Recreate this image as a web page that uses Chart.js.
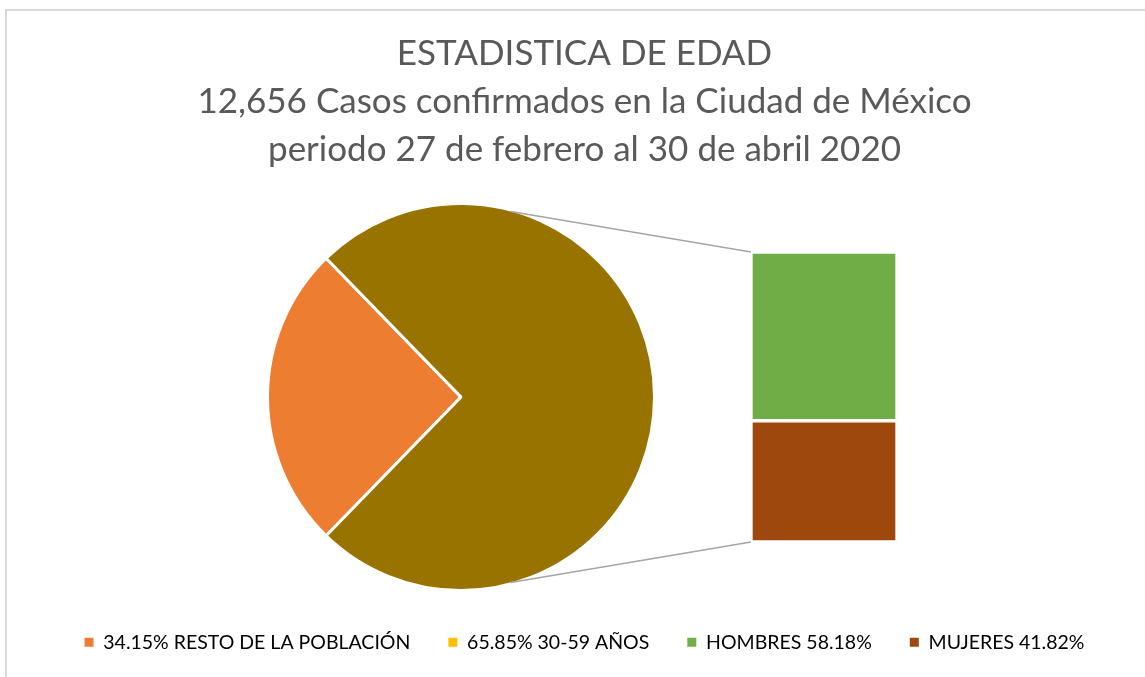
<!DOCTYPE html>
<html>
<head>
<meta charset="utf-8">
<title>Estadistica de edad</title>
<script src="https://cdn.jsdelivr.net/npm/chart.js@4.4.1/dist/chart.umd.min.js"></script>
<style>
  html, body { margin: 0; padding: 0; background: #fff; }
  #wrap { position: relative; width: 1145px; height: 677px; overflow: hidden; }
  #grafica-pie { position: absolute; left: 0; top: 0; }
  #grafica-barra { position: absolute; left: 751px; top: 252px; }
</style>
</head>
<body>
<div id="wrap">
  <canvas id="grafica-pie" width="1145" height="677"></canvas>
  <canvas id="grafica-barra" width="146" height="290"></canvas>
</div>
<script>
const tituloLineas = ['ESTADISTICA DE EDAD', '12,656 Casos confirmados en la Ciudad de México', 'periodo 27 de febrero al 30 de abril 2020'];
const categorias = ['RESTO DE LA POBLACIÓN', '30-59 AÑOS', 'HOMBRES', 'MUJERES'];
const porcentajes = [34.15, 65.85, 58.18, 41.82];
const etiquetasLeyenda = ['34.15% RESTO DE LA POBLACIÓN', '65.85% 30-59 AÑOS', 'HOMBRES 58.18%', 'MUJERES 41.82%'];
const colores = ['#ED7D31', '#FFC000', '#70AD47', '#9E480E'];
const colorOtro = '#997300';

Chart.defaults.font.family = 'Lato, "Open Sans", sans-serif';
Chart.defaults.color = '#595959';

// barra de desglose (hombres / mujeres)
const graficaBarra = new Chart(document.getElementById('grafica-barra'), {
  type: 'bar',
  data: {
    labels: [categorias[1]],
    datasets: [
      { label: categorias[3], data: [porcentajes[3]], backgroundColor: colores[3] },
      { label: categorias[2], data: [porcentajes[2]], backgroundColor: colores[2] }
    ]
  },
  options: {
    responsive: false,
    animation: false,
    events: [],
    datasets: {
      bar: { barPercentage: 1, categoryPercentage: 1, borderColor: '#ffffff', borderWidth: 2, borderSkipped: false }
    },
    scales: {
      x: { stacked: true, display: false },
      y: { stacked: true, display: false, min: 0, max: porcentajes[2] + porcentajes[3] }
    },
    layout: { padding: 0 },
    plugins: { legend: { display: false }, tooltip: { enabled: false } }
  }
});

// marco gris del area del grafico
const marco = {
  id: 'marco',
  beforeDraw(chart) {
    const ctx = chart.ctx;
    ctx.save();
    ctx.strokeStyle = '#d9d9d9';
    ctx.lineWidth = 2;
    ctx.strokeRect(6, 10, 1200, 800);
    ctx.restore();
  }
};

// coloca el pastel a la izquierda
const moverPie = {
  id: 'moverPie',
  afterLayout(chart) {
    const a = chart.chartArea;
    a.left = 266; a.right = 656; a.top = 202; a.bottom = 592;
    a.width = 390; a.height = 390;
  }
};

// lineas que unen el pastel con la barra
const conectores = {
  id: 'conectores',
  afterDraw(chart) {
    const arco = chart.getDatasetMeta(0).data[1];
    if (!arco) return;
    const r = arco.outerRadius - 1.5;
    const ang = 75 * Math.PI / 180;
    const canvasBarra = graficaBarra.canvas;
    const ox = canvasBarra.offsetLeft, oy = canvasBarra.offsetTop;
    const arriba = graficaBarra.getDatasetMeta(1).data[0];
    const abajo = graficaBarra.getDatasetMeta(0).data[0];
    const ctx = chart.ctx;
    ctx.save();
    ctx.strokeStyle = '#a5a5a5';
    ctx.lineWidth = 1.5;
    ctx.beginPath();
    ctx.moveTo(arco.x + r * Math.cos(-ang), arco.y + r * Math.sin(-ang));
    ctx.lineTo(ox + arriba.x - arriba.width / 2, oy + arriba.y);
    ctx.moveTo(arco.x + r * Math.cos(ang), arco.y + r * Math.sin(ang));
    ctx.lineTo(ox + abajo.x - abajo.width / 2, oy + abajo.base);
    ctx.stroke();
    ctx.restore();
  }
};

const valoresPie = [porcentajes[0], porcentajes[2] + porcentajes[3]];
const fraccion = valoresPie[0] / (valoresPie[0] + valoresPie[1]);

new Chart(document.getElementById('grafica-pie'), {
  type: 'pie',
  data: {
    labels: [categorias[0], categorias[1]],
    datasets: [{
      data: valoresPie,
      backgroundColor: [colores[0], colorOtro],
      borderColor: '#ffffff',
      borderWidth: 3
    }]
  },
  options: {
    responsive: false,
    animation: false,
    events: [],
    rotation: 270 - 180 * fraccion,
    layout: { padding: { top: 0, bottom: 15, left: 24, right: 0 } },
    plugins: {
      title: {
        display: true,
        text: tituloLineas,
        color: '#595959',
        font: { size: 35, weight: 'normal', lineHeight: '48px' },
        padding: { top: 30, bottom: 0 }
      },
      legend: {
        position: 'bottom',
        labels: {
          color: '#595959',
          font: { size: 19.5 },
          boxWidth: 9,
          boxHeight: 9,
          padding: 38,
          generateLabels: () => etiquetasLeyenda.map((texto, i) => ({
            text: texto,
            fillStyle: colores[i],
            strokeStyle: colores[i],
            lineWidth: 0,
            hidden: false,
            index: i
          }))
        }
      },
      tooltip: { enabled: false }
    }
  },
  plugins: [marco, moverPie, conectores]
});
</script>
</body>
</html>
